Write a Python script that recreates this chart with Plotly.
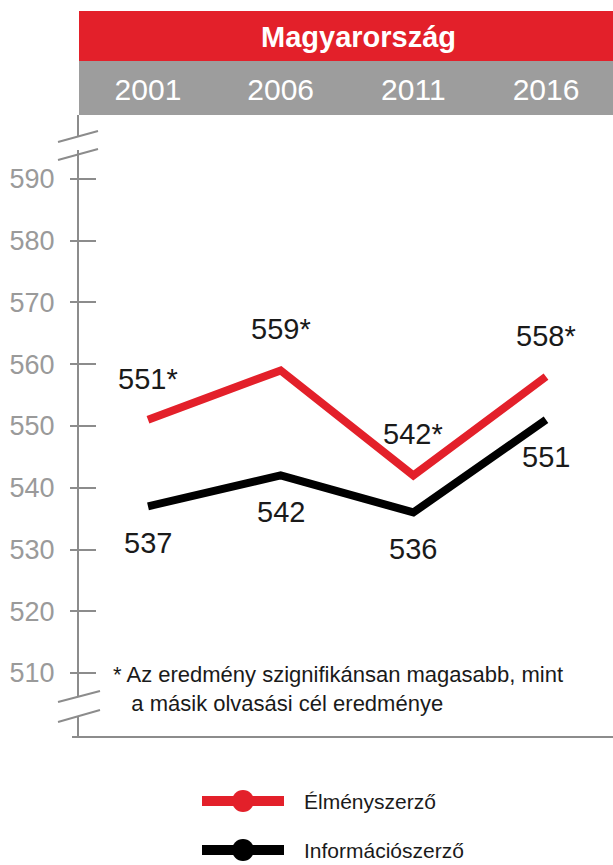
import plotly.graph_objects as go

# data
years = ["2001", "2006", "2011", "2016"]
elmeny = [551, 559, 542, 558]
elmeny_labels = ["551*", "559*", "542*", "558*"]
info = [537, 542, 536, 551]
info_labels = ["537", "542", "536", "551"]
series_names = ["Élményszerző", "Információszerző"]
y_ticks = [510, 520, 530, 540, 550, 560, 570, 580, 590]
title = "Magyarország"
footnote = "* Az eredmény szignifikánsan magasabb, mint<br>   a másik olvasási cél eredménye"

RED = "#e3202a"
BLACK = "#000000"
GRAY = "#8c8c8c"
FONT = "Liberation Sans, Arial"

W, H = 613, 865
L, R, T, B = 79, 0, 115, 128
pw, ph = W - L - R, H - T - B


def px_x(px):
    return (px - L) / pw


def px_y(py):
    return (H - B - py) / ph


x = list(range(len(years)))

fig = go.Figure()
fig.add_trace(go.Scatter(x=x, y=elmeny, mode="lines", line=dict(color=RED, width=8),
                         name=series_names[0], showlegend=False))
fig.add_trace(go.Scatter(x=x, y=info, mode="lines", line=dict(color=BLACK, width=8),
                         name=series_names[1], showlegend=False))
# second y axis just for the inner half of the ticks
fig.add_trace(go.Scatter(x=[x[0]], y=[info[0]], yaxis="y2", mode="markers",
                         marker=dict(opacity=0), showlegend=False, hoverinfo="skip"))

annotations = []
for i, (v, t) in enumerate(zip(elmeny, elmeny_labels)):
    annotations.append(dict(x=i, y=v, text=t, showarrow=False, yshift=41,
                            font=dict(family=FONT, size=29, color="#1a1a1a")))
for i, (v, t) in enumerate(zip(info, info_labels)):
    annotations.append(dict(x=i, y=v, text=t, showarrow=False, yshift=-37,
                            font=dict(family=FONT, size=29, color="#1a1a1a")))

annotations.append(dict(xref="paper", yref="paper", x=px_x(358), y=px_y(37), text="<b>" + title + "</b>",
                        xanchor="center", yanchor="middle", showarrow=False,
                        font=dict(family=FONT, size=29, color="white")))
annotations.append(dict(xref="paper", yref="paper", x=px_x(111), y=px_y(689), text=footnote,
                        xanchor="left", yanchor="middle", align="left", showarrow=False,
                        font=dict(family=FONT, size=22, color="#1a1a1a")))

shapes = [
    # header bars
    dict(type="rect", xref="paper", yref="paper", x0=0, x1=1, y0=1, y1=px_y(61),
         fillcolor="#9d9d9d", line=dict(width=0), layer="below"),
    dict(type="rect", xref="paper", yref="paper", x0=0, x1=1, y0=px_y(61), y1=px_y(11),
         fillcolor=RED, line=dict(width=0), layer="below"),
    # bottom axis line
    dict(type="line", xref="paper", yref="paper", x0=px_x(72), x1=1, y0=0, y1=0,
         line=dict(color=GRAY, width=2)),
    # axis break gaps
    dict(type="rect", xref="paper", yref="paper", x0=px_x(75), x1=px_x(83), y0=px_y(150), y1=px_y(137),
         fillcolor="white", line=dict(width=0)),
    dict(type="rect", xref="paper", yref="paper", x0=px_x(75), x1=px_x(83), y0=px_y(716), y1=px_y(697),
         fillcolor="white", line=dict(width=0)),
]
for (x0, y0, x1, y1) in [(58, 142, 98, 131), (58, 160, 98, 149), (58, 702, 100, 691), (58, 722, 100, 710)]:
    shapes.append(dict(type="line", xref="paper", yref="paper", x0=px_x(x0), y0=px_y(y0),
                       x1=px_x(x1), y1=px_y(y1), line=dict(color=GRAY, width=2)))

# custom legend
for name, color, py in [(series_names[0], RED, 801), (series_names[1], BLACK, 850)]:
    shapes.append(dict(type="line", xref="paper", yref="paper", x0=px_x(202), x1=px_x(284),
                       y0=px_y(py), y1=px_y(py), line=dict(color=color, width=10)))
    shapes.append(dict(type="circle", xref="paper", yref="paper", xsizemode="pixel", ysizemode="pixel",
                       xanchor=px_x(243), yanchor=px_y(py), x0=-11, x1=11, y0=-11, y1=11,
                       fillcolor=color, line=dict(width=0)))
    annotations.append(dict(xref="paper", yref="paper", x=px_x(302), y=px_y(py), text=name,
                            xanchor="left", yanchor="middle", showarrow=False,
                            font=dict(family=FONT, size=21, color="#1a1a1a")))

fig.update_layout(
    width=W, height=H,
    margin=dict(l=L, r=R, t=T, b=B, pad=0),
    plot_bgcolor="white", paper_bgcolor="white",
    showlegend=False,
    xaxis=dict(range=[-0.52, 3.505], side="top", tickvals=x, ticktext=years,
               tickfont=dict(family=FONT, size=30, color="white"), ticks="",
               showgrid=False, zeroline=False, showline=False, ticklabelstandoff=8),
    yaxis=dict(range=[499.64, 600.36], tickvals=y_ticks, ticks="outside", ticklen=7,
               tickcolor=GRAY, tickwidth=2, showline=True, linecolor=GRAY, linewidth=2,
               tickfont=dict(family=FONT, size=27, color="#9a9a9a"), ticklabelstandoff=10,
               showgrid=False, zeroline=False),
    yaxis2=dict(range=[499.64, 600.36], overlaying="y", side="left", tickvals=y_ticks,
                ticks="inside", ticklen=17, tickcolor=GRAY, tickwidth=2, showticklabels=False,
                showgrid=False, zeroline=False, showline=False),
    shapes=shapes,
    annotations=annotations,
)

# the page body has a default 8px margin; drop it so the figure fills the window
fig.write_html("out.html", config={"displayModeBar": False},
               post_script="document.body.style.margin='0';")
